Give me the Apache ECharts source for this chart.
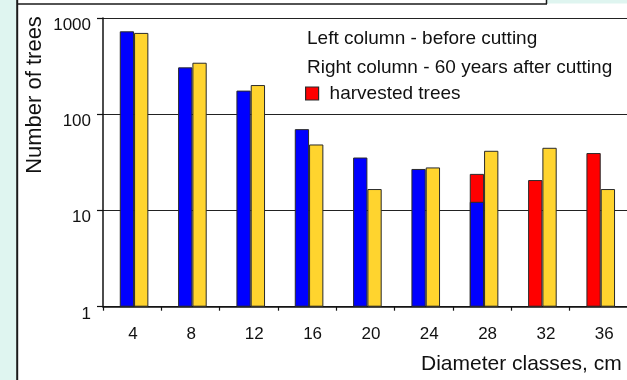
<!DOCTYPE html>
<html>
<head>
<meta charset="utf-8">
<style>
  html, body { margin: 0; padding: 0; background: #ffffff; }
  #chart { width: 627px; height: 380px; }
</style>
<script src="https://cdn.jsdelivr.net/npm/echarts@6/dist/echarts.min.js"></script>
</head>
<body>
<div id="chart"></div>
<script>
// Diameter classes (cm)
const diameterClasses = ['4', '8', '12', '16', '20', '24', '28', '32', '36'];
// Left column: whole stand before cutting
const beforeCutting = [727, 307, 176, 70, 35.5, 27, 24.0, 20.7, 39.5];
// Left column: part of the stand that was left standing (the rest was harvested)
const leftStanding = [727, 307, 176, 70, 35.5, 27, 12.3, null, null];
// Right column: stand 60 years after cutting
const afterSixty = [700, 343, 201, 48.5, 16.7, 28, 41.7, 44.8, 16.7];
// Log-axis range
const yTicks = [1, 10, 100, 1000];

const FONT = '"Liberation Sans", Arial, sans-serif';
const BLUE = '#0000FF';
const RED = '#FF0000';
const YELLOW = '#FFD42E';
const EDGE = '#2a2a2a';

// red shows only where part of the class was harvested
const harvestedColumn = beforeCutting.map((v, i) => (leftStanding[i] == null || leftStanding[i] < v ? v : null));

const chart = echarts.init(document.getElementById('chart'), null, { renderer: 'canvas' });

const PLOT = { top: 18, width: 525, height: 288.7, outerBoundsMode: 'none', containLabel: false };
const AXIS_LEFT = 103;
const BAR_W = 14.3;

const hiddenCat = (gridIndex) => ({
  type: 'category', gridIndex, data: diameterClasses, boundaryGap: true,
  axisLine: { show: false }, axisTick: { show: false }, axisLabel: { show: false }, splitLine: { show: false }
});
const hiddenLog = (gridIndex) => ({
  type: 'log', logBase: 10, gridIndex, min: yTicks[0], max: yTicks[yTicks.length - 1],
  axisLine: { show: false }, axisTick: { show: false }, axisLabel: { show: false }, splitLine: { show: false }
});

chart.setOption({
  animation: false,
  backgroundColor: '#ffffff',
  textStyle: { fontFamily: FONT },
  grid: [
    // visible axes
    Object.assign({ left: AXIS_LEFT }, PLOT),
    // left columns of each class
    Object.assign({ left: AXIS_LEFT - 5.25 }, PLOT),
    // right columns of each class
    Object.assign({ left: AXIS_LEFT + 9.05 }, PLOT)
  ],
  legend: {
    data: ['harvested trees'],
    left: 305,
    top: 84,
    padding: 0,
    itemWidth: 13,
    itemHeight: 13,
    icon: 'rect',
    textStyle: { fontFamily: FONT, fontSize: 19, color: '#111', padding: [0, 0, 0, 6] },
    itemStyle: { borderColor: EDGE, borderWidth: 1.2 }
  },
  xAxis: [
    {
      type: 'category',
      gridIndex: 0,
      data: diameterClasses,
      boundaryGap: true,
      axisLine: { show: true, lineStyle: { color: '#111', width: 1.5 } },
      axisTick: { show: true, length: 4, alignWithLabel: false, lineStyle: { color: '#111', width: 1.2 } },
      axisLabel: {
        fontFamily: FONT,
        fontSize: 17,
        color: '#111',
        margin: 19,
        align: 'left',
        padding: [0, 0, 0, -4]
      },
      splitLine: { show: false }
    },
    hiddenCat(1),
    hiddenCat(2)
  ],
  yAxis: [
    {
      type: 'log',
      gridIndex: 0,
      logBase: 10,
      min: yTicks[0],
      max: yTicks[yTicks.length - 1],
      axisLine: { show: true, lineStyle: { color: '#111', width: 1.5 } },
      axisTick: { show: true, length: 6, inside: false, lineStyle: { color: '#111', width: 1.2 } },
      axisLabel: {
        fontFamily: FONT,
        fontSize: 17,
        color: '#111',
        margin: 12,
        // labels hang slightly below their grid line
        verticalAlign: 'top',
        lineHeight: 14.5,
        formatter: (v) => String(Math.round(v))
      },
      splitLine: { show: true, lineStyle: { color: '#222', width: 1.2 } }
    },
    hiddenLog(1),
    hiddenLog(2)
  ],
  series: [
    {
      name: 'harvested trees',
      type: 'bar',
      xAxisIndex: 1,
      yAxisIndex: 1,
      data: harvestedColumn,
      barWidth: BAR_W,
      barGap: '-100%',
      itemStyle: { color: RED, borderColor: EDGE, borderWidth: 1 },
      z: 3
    },
    {
      name: 'left standing',
      type: 'bar',
      xAxisIndex: 1,
      yAxisIndex: 1,
      data: leftStanding,
      barWidth: BAR_W,
      barGap: '-100%',
      itemStyle: { color: BLUE, borderColor: EDGE, borderWidth: 1 },
      z: 4
    },
    {
      name: '60 years after cutting',
      type: 'bar',
      xAxisIndex: 2,
      yAxisIndex: 2,
      data: afterSixty,
      barWidth: BAR_W,
      itemStyle: { color: YELLOW, borderColor: EDGE, borderWidth: 1 },
      z: 3
    }
  ],
  graphic: [
    // page frame: mint side strip and dark border lines
    { type: 'rect', left: 0, top: 0, shape: { width: 16.5, height: 380 }, style: { fill: '#DFF5F0' }, silent: true },
    { type: 'rect', left: 547, top: 0, shape: { width: 80, height: 3.5 }, style: { fill: '#DFF5F0' }, silent: true },
    { type: 'line', shape: { x1: 17.2, y1: 0, x2: 17.2, y2: 380 }, style: { stroke: '#1a1a1a', lineWidth: 2 }, silent: true },
    { type: 'line', shape: { x1: 17, y1: 4, x2: 547, y2: 4 }, style: { stroke: '#1a1a1a', lineWidth: 1.5 }, silent: true },
    { type: 'line', shape: { x1: 546.5, y1: 0, x2: 546.5, y2: 4 }, style: { stroke: '#1a1a1a', lineWidth: 1.5 }, silent: true },
    // axis titles
    {
      type: 'text', x: 35, y: 95, rotation: Math.PI / 2,
      style: { text: 'Number of trees', fontFamily: FONT, fontSize: 22, fill: '#111', align: 'center', verticalAlign: 'middle' }
    },
    {
      type: 'text', x: 421, y: 364,
      style: { text: 'Diameter classes, cm', fontFamily: FONT, fontSize: 21, fill: '#111', align: 'left', verticalAlign: 'middle' }
    },
    // explanatory notes inside the plot
    {
      type: 'text', x: 307, y: 39,
      style: { text: 'Left column - before cutting', fontFamily: FONT, fontSize: 19, fill: '#111', align: 'left', verticalAlign: 'middle' }
    },
    {
      type: 'text', x: 307, y: 68,
      style: { text: 'Right column - 60 years after cutting', fontFamily: FONT, fontSize: 19, fill: '#111', align: 'left', verticalAlign: 'middle' }
    }
  ]
});
</script>
</body>
</html>
